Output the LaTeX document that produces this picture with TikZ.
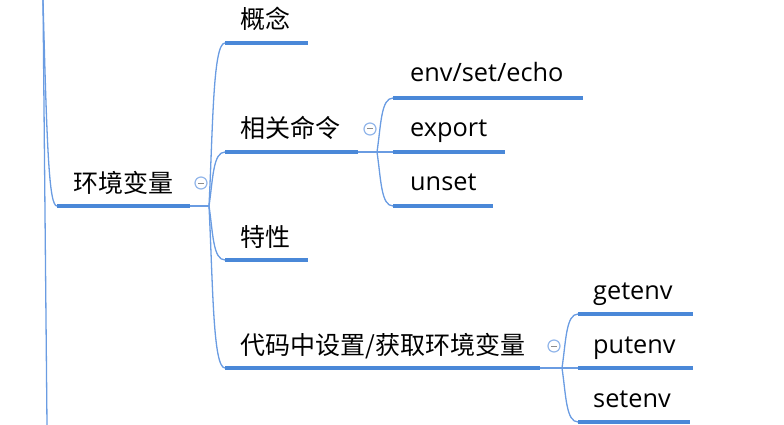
\documentclass[tikz,border=0pt]{standalone}
\usepackage{fontspec}
\setmainfont{Open Sans}
\newfontfamily\cjk{Noto Sans CJK SC}
\usetikzlibrary{calc}
\definecolor{ulc}{HTML}{4A88D8}
\definecolor{cnc}{HTML}{6A9CE2}
\definecolor{cic}{HTML}{92B6EA}
\begin{document}
\begin{tikzpicture}[x=1pt,y=-1pt,
  ul/.style={line width=3.6pt, ulc},
  conn/.style={line width=1.3pt, cnc},
  brc/.style={conn, to path={.. controls ([xshift=4pt]$(\tikztostart)!0.5!(\tikztostart|-\tikztotarget)$) and ([xshift=4pt]\tikztostart|-\tikztotarget) .. (\tikztotarget)}},
  zh/.style={anchor=base west, inner sep=0pt, font=\cjk\fontsize{25}{30}\selectfont},
  en/.style={anchor=base west, inner sep=0pt, font=\fontsize{25.3}{30}\selectfont},
  fold/.style={circle, draw=cic, line width=1.2pt, fill=white, minimum size=12pt, inner sep=0pt,
    path picture={\draw[line width=1pt, black!45] ([xshift=-3pt]path picture bounding box.center) -- ([xshift=3pt]path picture bounding box.center);}}
]
\useasboundingbox (0,0) rectangle (784,425);

% trunk and root branch
\coordinate (tt) at (43,0);
\coordinate (tb) at (47,425);
\coordinate (tc) at (43,0);
\draw[conn] (tt) -- (tb);

% level 1
\coordinate (h0s) at (57,206);
\coordinate (h0e) at (190,206);
\coordinate (f0) at (209,206);
\draw[conn] (tc) .. controls (47,150) and (49,206) .. (h0s);
\draw[ul] (h0s) -- (h0e);
\draw[conn] (h0e) -- (f0);
\node[zh] (t0) at (73,192) {环境变量};
\node[fold] (o0) at (201,183) {};

% level 2
\coordinate (c1s) at (225,43);  \coordinate (c1e) at (308,43);
\coordinate (c2s) at (225,152); \coordinate (c2e) at (358,152);
\coordinate (c3s) at (225,260); \coordinate (c3e) at (308,260);
\coordinate (c4s) at (225,368); \coordinate (c4e) at (540,368);
\foreach \c in {c1,c2,c3,c4} {
  \draw[brc] (f0) to (\c s);
  \draw[ul] (\c s) -- (\c e);
}
\node[zh] (t1) at (240,29) {概念};
\node[zh] (t2) at (240,138) {相关命令};
\node[zh] (t3) at (240,246) {特性};
\node[zh] (t4) at (240,354) {代码中设置/获取环境变量};

% children of 相关命令
\coordinate (f2) at (377,152);
\draw[conn] (c2e) -- (f2);
\node[fold] (o2) at (370,129) {};
\coordinate (d1s) at (393,98);  \coordinate (d1e) at (583,98);
\coordinate (d2s) at (393,152); \coordinate (d2e) at (505,152);
\coordinate (d3s) at (393,206); \coordinate (d3e) at (493,206);
\foreach \c in {d1,d2,d3} {
  \draw[brc] (f2) to (\c s);
  \draw[ul] (\c s) -- (\c e);
}
\node[en] (u1) at (410,82) {env/set/echo};
\node[en] (u2) at (410,136.5) {export};
\node[en] (u3) at (410,190.5) {unset};

% children of 代码中设置/获取环境变量
\coordinate (f4) at (562,368);
\draw[conn] (c4e) -- (f4);
\node[fold] (o4) at (554,346) {};
\coordinate (g1s) at (578,314); \coordinate (g1e) at (693,314);
\coordinate (g2s) at (578,368); \coordinate (g2e) at (693,368);
\coordinate (g3s) at (578,422); \coordinate (g3e) at (690,422);
\foreach \c in {g1,g2,g3} {
  \draw[brc] (f4) to (\c s);
  \draw[ul] (\c s) -- (\c e);
}
\node[en] (v1) at (593,299) {getenv};
\node[en] (v2) at (593,353) {putenv};
\node[en] (v3) at (593,407) {setenv};
\end{tikzpicture}
\end{document}
